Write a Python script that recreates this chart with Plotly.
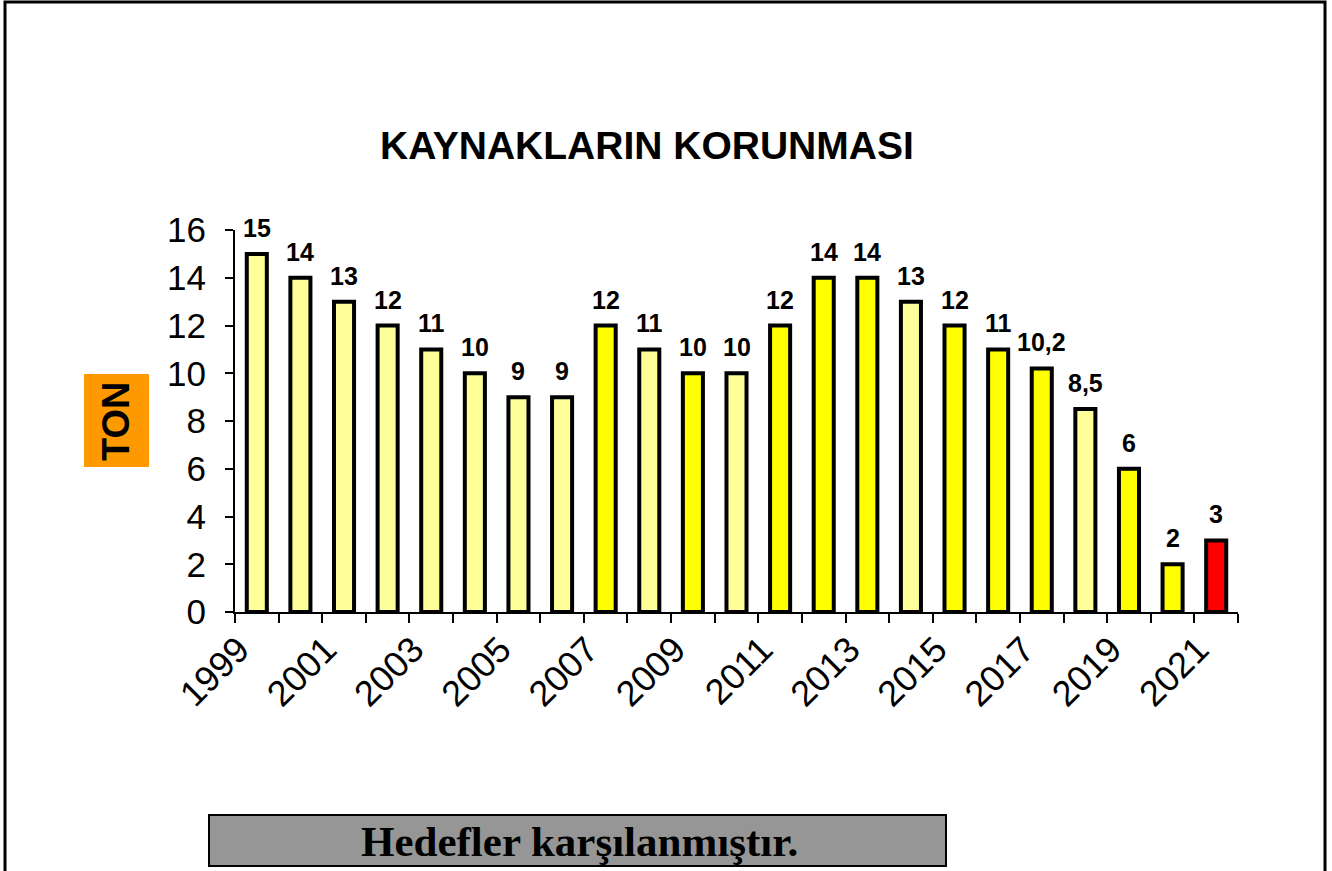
import plotly.graph_objects as go

years = [str(y) for y in range(1999, 2022)]
values = [15, 14, 13, 12, 11, 10, 9, 9, 12, 11, 10, 10, 12, 14, 14, 13, 12, 11, 10.2, 8.5, 6, 2, 3]
labels = ["15", "14", "13", "12", "11", "10", "9", "9", "12", "11", "10", "10", "12", "14", "14",
          "13", "12", "11", "10,2", "8,5", "6", "2", "3"]
color_keys = ["L", "L", "L", "L", "L", "L", "L", "L", "Y", "L", "Y", "L", "Y", "Y", "Y",
              "L", "Y", "Y", "Y", "L", "Y", "Y", "R"]
palette = {"L": "#FFFF99", "Y": "#FFFF00", "R": "#FF0000"}
tick_text = [y if int(y) % 2 == 1 else "" for y in years]

W, H = 1332, 871
L, R, T, B = 235, 1238, 230, 612


def px(x):
    return (x - L) / (R - L)


def py(y):
    return (B - y) / (B - T)


fig = go.Figure()
fig.add_trace(go.Bar(
    x=years, y=values,
    marker=dict(color=[palette[k] for k in color_keys], line=dict(color="black", width=4)),
    width=0.46,
    hoverinfo="x+y",
))

annotations = []
for i, (v, lab) in enumerate(zip(values, labels)):
    annotations.append(dict(x=i, y=v, xref="x", yref="y", text="<b>%s</b>" % lab,
                            showarrow=False, yanchor="bottom", yshift=10,
                            font=dict(family="Liberation Sans, Arial", size=25, color="black")))

annotations.append(dict(x=px(647), y=py(145), xref="paper", yref="paper",
                        text="<b>KAYNAKLARIN KORUNMASI</b>", showarrow=False,
                        xanchor="center", yanchor="middle",
                        font=dict(family="Liberation Sans, Arial", size=39, color="black")))
annotations.append(dict(x=px(116), y=py(421), xref="paper", yref="paper",
                        text="<b>TON</b>", showarrow=False, textangle=-90,
                        xanchor="center", yanchor="middle",
                        font=dict(family="Liberation Sans, Arial", size=38, color="black")))
annotations.append(dict(x=px(579), y=py(841), xref="paper", yref="paper",
                        text="<b>Hedefler karşılanmıştır.</b>", showarrow=False,
                        xanchor="center", yanchor="middle",
                        font=dict(family="Liberation Serif, Times New Roman", size=43, color="black")))

shapes = [
    dict(type="rect", xref="paper", yref="paper", x0=px(84), x1=px(149), y0=py(467), y1=py(374),
         fillcolor="#FF9900", line=dict(width=0), layer="below"),
    dict(type="rect", xref="paper", yref="paper", x0=px(209), x1=px(946), y0=py(866), y1=py(815),
         fillcolor="#969696", line=dict(color="black", width=2), layer="below"),
    dict(type="rect", xref="paper", yref="paper", x0=px(5), x1=px(1325), y0=py(900), y1=py(2),
         fillcolor="rgba(0,0,0,0)", line=dict(color="black", width=3), layer="below"),
]

fig.update_layout(
    width=W, height=H,
    margin=dict(l=L, r=W - R, t=T, b=H - B, pad=0),
    paper_bgcolor="white", plot_bgcolor="white",
    showlegend=False,
    annotations=annotations,
    shapes=shapes,
    font=dict(family="Liberation Sans, Arial", color="black"),
    xaxis=dict(type="category", tickmode="array", tickvals=years, ticktext=tick_text,
               tickson="boundaries", ticks="outside", ticklen=9, tickwidth=2, tickcolor="black",
               showline=True, linecolor="black", linewidth=2, showgrid=False, tickangle=-45,
               tickfont=dict(size=36, family="Liberation Sans, Arial", color="black"),
               ticklabelstandoff=0, ticklabelshift=-18),
    yaxis=dict(range=[0, 16], dtick=2, ticks="outside", ticklen=8, tickwidth=2, tickcolor="black",
               showline=True, linecolor="black", linewidth=2, showgrid=False, zeroline=False,
               tickfont=dict(size=35, family="Liberation Sans, Arial", color="black"),
               ticklabelstandoff=12),
)

fig.write_html("out.html", config={"displayModeBar": False},
               post_script="document.body.style.margin='0';")
